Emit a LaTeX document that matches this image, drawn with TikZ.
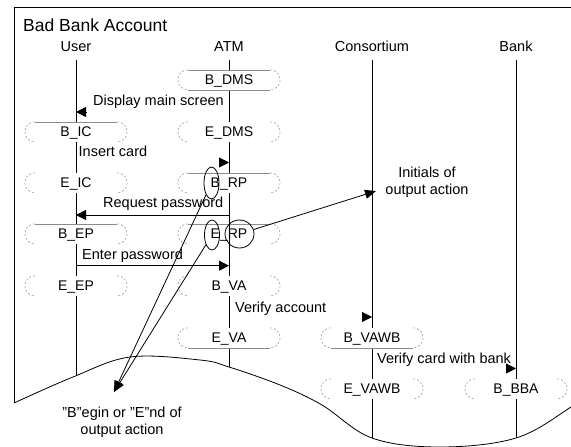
\documentclass[tikz,border=0pt]{standalone}
\usepackage{fontspec}
\setmainfont{Liberation Sans}
\usetikzlibrary{arrows.meta,shapes.geometric}
\tikzset{
  x=1pt, y=1pt,
  frameline/.style={line width=0.8pt},
  life/.style={line width=0.8pt},
  boxnode/.style={fill=white, minimum width=102pt, minimum height=20pt, inner sep=0pt,
    text height=9pt, text depth=0pt, font=\fontsize{14}{16}\selectfont},
  boxedge/.style={draw=black!45, line width=0.6pt},
  boxside/.style={draw=black!40, line width=0.6pt, dash pattern=on 2pt off 2pt},
  msg/.style={line width=0.8pt, -{Triangle[length=10pt,width=10pt]}},
  lbl/.style={font=\fontsize{14.5}{17}\selectfont, inner sep=0pt, anchor=base west},
  hdr/.style={font=\fontsize{14.5}{17}\selectfont, inner sep=0pt, anchor=base},
  ring/.style={draw, ellipse, line width=0.8pt, inner sep=0pt},
  note/.style={font=\fontsize{14.5}{17}\selectfont, align=center, inner sep=0pt, anchor=north},
  pointer/.style={line width=0.8pt, -{Triangle[length=11pt,width=9pt]}},
}
\newcommand\capsides[1]{%
  \draw[boxside] ([xshift=10pt]#1.north west) arc[start angle=90,end angle=270,radius=10pt];
  \draw[boxside] ([xshift=-10pt]#1.north east) arc[start angle=90,end angle=-90,radius=10pt];}
\newcommand\captop[1]{\draw[boxedge] ([xshift=10pt]#1.north west) -- ([xshift=-10pt]#1.north east);}
\newcommand\capbot[1]{\draw[boxedge] ([xshift=10pt]#1.south west) -- ([xshift=-10pt]#1.south east);}
\begin{document}
\begin{tikzpicture}
\useasboundingbox (0,0) rectangle (571,-447);
\clip (0,0) rectangle (571,-447);

% title and headers
\node[font=\fontsize{17.5}{20}\selectfont, inner sep=0pt, anchor=base west] (title) at (23,-31.7) {Bad Bank Account};
\node[hdr] (hU) at (76,-51.7) {User};
\node[hdr] (hA) at (229,-51.7) {ATM};
\node[hdr] (hC) at (372,-51.7) {Consortium};
\node[hdr] (hK) at (516,-51.7) {Bank};

% lifelines
\coordinate (Utop) at (76,-60);   \coordinate (Ubot) at (76,-460);
\coordinate (Atop) at (229,-60);  \coordinate (Abot) at (229,-460);
\coordinate (Ctop) at (372,-60);  \coordinate (Cbot) at (372,-460);
\coordinate (Ktop) at (516,-60);  \coordinate (Kbot) at (516,-460);
\draw[life] (Utop) -- (Ubot);
\draw[life] (Atop) -- (Abot);
\draw[life] (Ctop) -- (Cbot);
\draw[life] (Ktop) -- (Kbot);

% frame with wavy bottom
\fill[white] plot[smooth,tension=0.6] coordinates {(14,-403) (73,-377) (130,-357) (200,-360) (229,-367) (280,-385) (322,-405) (372,-438) (440,-447) (516,-438) (571,-407) (600,-385)}
  -- (600,-470) -- (0,-470) -- (0,-403) -- cycle;
\draw[frameline] (600,-7) -- (14,-7) -- (14,-403);
\draw[frameline] plot[smooth,tension=0.6] coordinates {(14,-403) (73,-377) (130,-357) (200,-360) (229,-367) (280,-385) (322,-405) (372,-438) (440,-447) (516,-438) (571,-407) (600,-385)};

% boxes
\node[boxnode] (bdms) at (229,-80) {B\_DMS};
\node[boxnode] (bic) at (76,-132) {B\_IC};
\node[boxnode] (edms) at (229,-132) {E\_DMS};
\node[boxnode] (eic) at (76,-183) {E\_IC};
\node[boxnode] (brp) at (229,-183) {B\_RP};
\node[boxnode] (bep) at (76,-234) {B\_EP};
\node[boxnode] (erp) at (229,-234) {E\_RP};
\node[boxnode] (eep) at (76,-286) {E\_EP};
\node[boxnode] (bva) at (229,-286) {B\_VA};
\node[boxnode] (eva) at (229,-338) {E\_VA};
\node[boxnode] (bvawb) at (372,-338) {B\_VAWB};
\node[boxnode] (evawb) at (372,-389) {E\_VAWB};
\node[boxnode] (bbba) at (516,-389) {B\_BBA};
\foreach \b in {bdms,bic,edms,eic,brp,bep,erp,eep,bva,eva,bvawb,evawb,bbba}{\capsides{\b}}
\captop{bdms}\capbot{bdms}
\captop{bic}
\captop{brp}
\captop{bep}
\captop{erp}
\capbot{eva}
\capbot{bvawb}
\draw[life] (erp.north) -- (erp.south);

% messages
\coordinate (m1s) at (86,-112);  \coordinate (m1e) at (76,-112);
\coordinate (m2s) at (219,-162.5); \coordinate (m2e) at (229,-162.5);
\coordinate (m3s) at (229,-215); \coordinate (m3e) at (76,-215);
\coordinate (m4s) at (76,-265.7); \coordinate (m4e) at (229,-265.7);
\coordinate (m5s) at (362,-317); \coordinate (m5e) at (372,-317);
\coordinate (m6s) at (506,-368.5); \coordinate (m6e) at (516,-368.5);
\draw[msg] (m1s) -- (m1e);
\draw[msg] (m2s) -- (m2e);
\draw[msg] (m3s) -- (m3e);
\draw[msg] (m4s) -- (m4e);
\draw[msg] (m5s) -- (m5e);
\draw[msg] (m6s) -- (m6e);
\node[lbl] (t1) at (93,-105) {Display main screen};
\node[lbl] (t2) at (78.5,-156.7) {Insert card};
\node[lbl] (t3) at (103,-207.3) {Request password};
\node[lbl] (t4) at (82,-259) {Enter password};
\node[lbl] (t5) at (235,-312.7) {Verify account};
\node[lbl] (t6) at (377,-363.3) {Verify card with bank};

% annotations
\node[ring, minimum width=15pt, minimum height=32pt] (ringB) at (211.5,-183) {};
\node[ring, minimum width=15pt, minimum height=30pt] (ringE) at (212,-235) {};
\node[ring, minimum width=29pt, minimum height=28pt] (ringRP) at (239.5,-234) {};
\node[note] (initials) at (427,-166.5) {Initials of\\output action};
\node[note] (beginend) at (122,-406.7) {"B"egin or "E"nd of\\output action};
\coordinate (itip) at (376,-191);
\coordinate (btip) at (114,-392);
\draw[pointer] (ringRP) -- (itip);
\draw[pointer] (ringB) -- (btip);
\draw[pointer] (ringE) -- (btip);
\end{tikzpicture}
\end{document}
